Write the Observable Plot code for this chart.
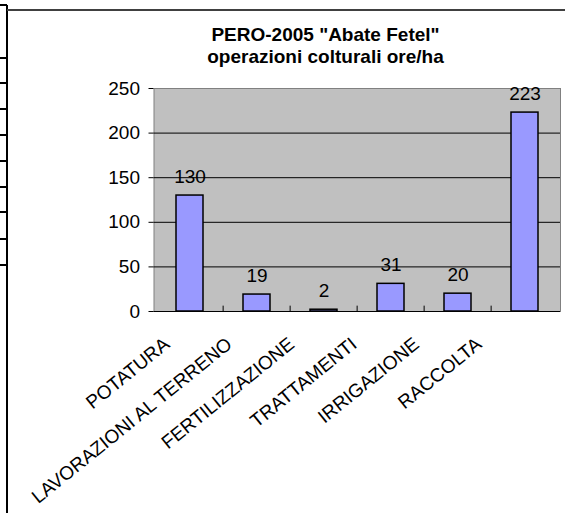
<!DOCTYPE html>
<html><head><meta charset="utf-8">
<script src="https://cdn.jsdelivr.net/npm/d3@7"></script>
<script src="https://cdn.jsdelivr.net/npm/@observablehq/plot@0.6"></script>
<style>
body{margin:0;background:#fff;}
#wrap{position:relative;width:565px;height:513px;overflow:hidden;font-family:Arial,"Liberation Sans",sans-serif;background:#fff;}
#title{position:absolute;left:125px;width:401px;top:23.5px;text-align:center;font-weight:bold;font-size:19px;line-height:22.5px;color:#000;z-index:2;}
.vline{position:absolute;left:6px;top:5px;width:2px;height:508px;background:#000;z-index:2;}
.tline{position:absolute;left:7px;top:9px;width:558px;height:2px;background:#404040;z-index:2;}
.cell{position:absolute;left:0;width:7px;height:2px;background:#000;z-index:2;}
#chart{position:absolute;left:0;top:0;}
</style></head>
<body><div id="wrap">
<div class="vline"></div><div class="tline"></div>
<div class="cell" style="top:4px"></div>
<div class="cell" style="top:57px"></div>
<div class="cell" style="top:82px"></div>
<div class="cell" style="top:108px"></div>
<div class="cell" style="top:134px"></div>
<div class="cell" style="top:160px"></div>
<div class="cell" style="top:186px"></div>
<div class="cell" style="top:211px"></div>
<div class="cell" style="top:238px"></div>
<div class="cell" style="top:264px"></div>
<div id="title">PERO-2005 "Abate Fetel"<br>operazioni colturali ore/ha</div>
<div id="chart"></div>
</div>
<script>
const categories = ["POTATURA", "LAVORAZIONI AL TERRENO", "FERTILIZZAZIONE", "TRATTAMENTI", "IRRIGAZIONE", "RACCOLTA"];
const values = [130, 19, 2, 31, 20, 223];
const yTicks = [0, 50, 100, 150, 200, 250];
const gridValues = [50, 100, 150, 200];

const data = categories.map((c, i) => ({category: c, value: values[i]}));
const W = 565, H = 513, mL = 153.5, mR = 5, mT = 88, mB = 202;
const step = (W - mL - mR) / categories.length;

const chart = Plot.plot({
  width: W, height: H,
  marginTop: mT, marginBottom: mB, marginLeft: mL, marginRight: mR,
  style: {fontFamily: 'Arial, "Liberation Sans", sans-serif', fontSize: "19px", color: "#000", background: "transparent", overflow: "visible"},
  x: {domain: categories, paddingInner: 0.6, paddingOuter: 0.3},
  y: {domain: [0, 250]},
  marks: [
    Plot.frame({fill: "#C0C0C0", stroke: "#808080"}),
    Plot.ruleY(gridValues, {stroke: "#000"}),
    Plot.ruleX(categories.slice(1), {x: d => d, y1: 0, y2: 6, dx: -step / 2, stroke: "#000"}),
    Plot.barY(data, {x: "category", y: "value", fill: "#9999FF", stroke: "#000", strokeWidth: 1.5}),
    Plot.ruleY([0], {stroke: "#000"}),
    Plot.text(data, {x: "category", y: "value", text: d => String(d.value), lineAnchor: "bottom", dy: -13, fontSize: 19, fill: "#000"}),
    Plot.axisY({ticks: yTicks, tickSize: 5, tickPadding: 9, label: null, fontSize: 19}),
    Plot.axisX({tickSize: 0, tickRotate: -39, label: null, fontSize: 19, dx: -23, dy: 18})
  ]
});
// Excel spaces its rotated category labels slightly tighter than the bands
d3.select(chart).selectAll("text").each(function () {
  const i = categories.indexOf(this.textContent);
  if (i > 0) {
    const t = this.getAttribute("transform") || "";
    this.setAttribute("transform", `translate(${-4.6 * i},0) ${t}`);
  }
});
document.getElementById("chart").appendChild(chart);
</script>
</body></html>
